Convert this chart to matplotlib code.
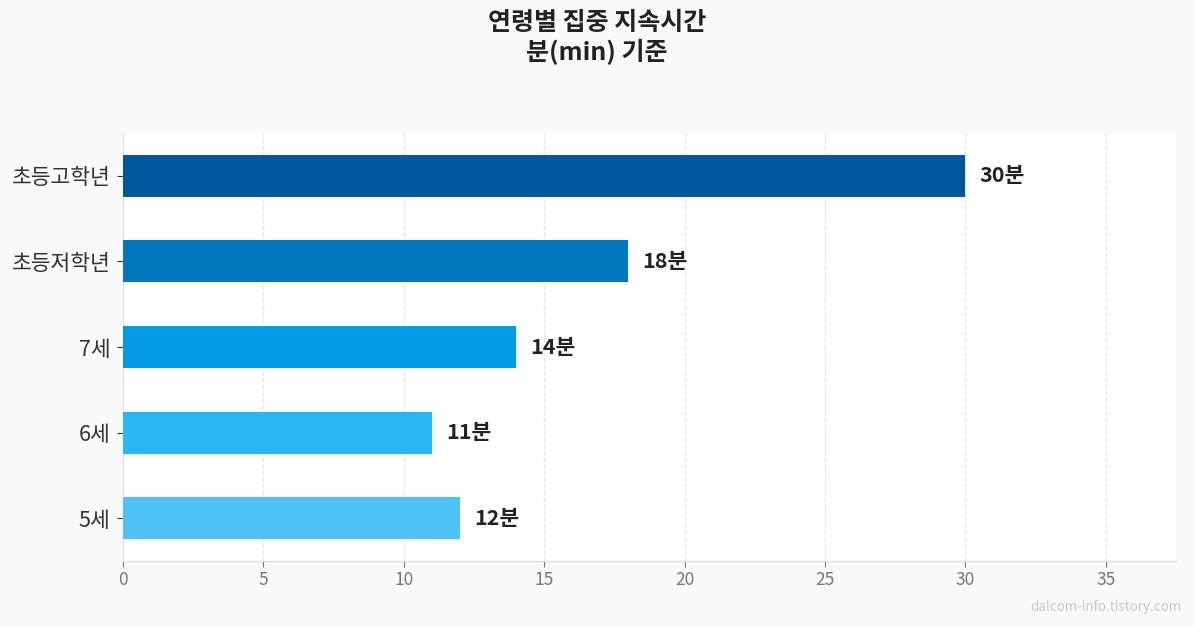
import matplotlib
matplotlib.use("Agg")
import matplotlib.pyplot as plt

plt.rcParams['font.family'] = ['Noto Sans CJK KR', 'DejaVu Sans']

groups = ['5세', '6세', '7세', '초등저학년', '초등고학년']
minutes = [12, 11, 14, 18, 30]
colors = ['#4FC3F7', '#29B6F6', '#039BE5', '#0277BD', '#01579B']

fig = plt.figure(figsize=(11.94, 6.26), dpi=100, facecolor='#F8F9FA')
ax = fig.add_axes([123 / 1194, 1 - 561 / 626, (1176 - 123) / 1194, (561 - 133) / 626])
ax.set_facecolor('white')

ax.barh(range(len(groups)), minutes, height=0.49, color=colors, zorder=3)
for i, v in enumerate(minutes):
    ax.text(v + 0.5, i, f'{v}분', va='center', ha='left', fontsize=15.5,
            fontweight='bold', color='#222222', zorder=4)

ax.set_yticks(range(len(groups)))
ax.set_yticklabels(groups, fontsize=15.5, color='#333333')
ax.set_xlim(0, 37.5)
ax.set_ylim(-0.5, 4.5)
ax.set_xticks(range(0, 36, 5))
ax.tick_params(axis='x', colors='#777777', labelsize=12.5, length=4)
ax.tick_params(axis='y', length=4, color='#333333', pad=5)
ax.grid(axis='x', linestyle='--', color='#E6E6E6', linewidth=0.9, zorder=0)

for s in ['top', 'right']:
    ax.spines[s].set_visible(False)
for s in ['left', 'bottom']:
    ax.spines[s].set_color('#DDDDDD')

fig.text(0.5, 1 - 38 / 626, '연령별 집중 지속시간\n분(min) 기준', ha='center', va='center',
         fontsize=18, fontweight='bold', color='#222222', linespacing=1.2)
fig.text(1181 / 1194, 1 - 607 / 626, 'dalcom-info.tistory.com', ha='right', va='center',
         fontsize=9.6, color='#C8C8C8')

fig.savefig('out.png', dpi=100, facecolor=fig.get_facecolor())
